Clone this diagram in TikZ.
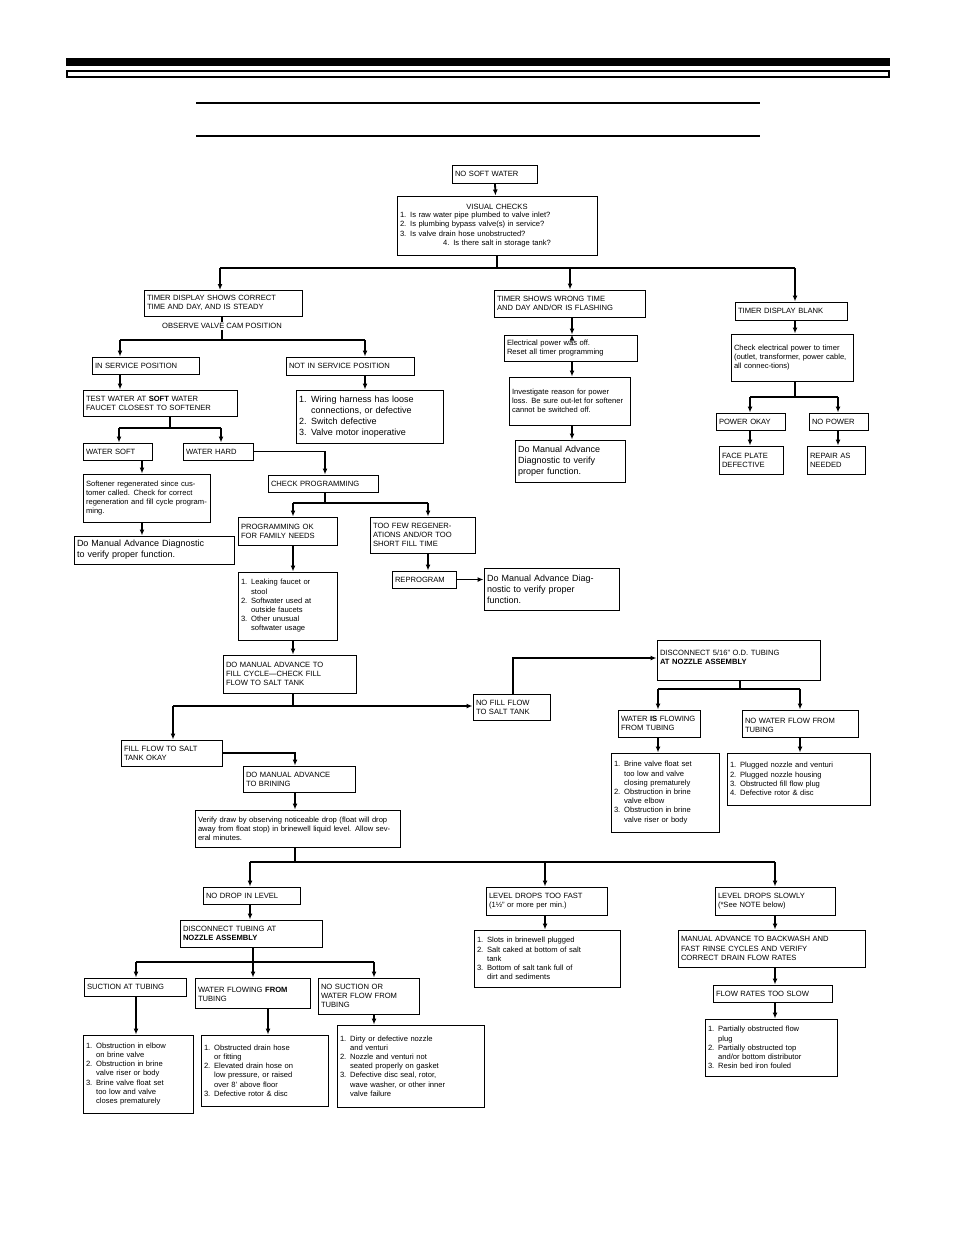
\documentclass[tikz,border=0pt]{standalone}
\usepackage{fontspec}
\setmainfont{Liberation Sans}
\usetikzlibrary{arrows.meta}
\begin{document}
\begin{tikzpicture}[x=1pt,y=-1pt,
  box/.style={draw,line width=1pt,inner xsep=3pt,inner ysep=1pt,align=left,font=\fontsize{7.6}{9.2}\selectfont},
  big/.style={font=\fontsize{9}{11}\selectfont},
  ln/.style={line width=1.8pt},
  ar/.style={line width=1.8pt,-{Latex[length=6pt,width=5pt]}}]
\useasboundingbox (0,0) rectangle (954,1235);
\fill (66,58) rectangle (890,66);
\draw[line width=1.2pt] (67,71) rectangle (889,77);
\draw[line width=1.5pt] (196,103) -- (760,103);
\draw[line width=1.5pt] (196,136) -- (760,136);
\newcommand{\bx}[7][]{\node[box,#1,minimum width=#4-#2,minimum height=#5-#3,text width=#4-#2-6] (#6) at ({(#2+#4)/2},{(#3+#5)/2}) {#7};}
\bx{452}{165}{537}{183}{nsw}{NO SOFT WATER}
\bx[align=center]{397}{196}{597}{255}{vis}{VISUAL CHECKS\\[-1pt]\raggedright 1. Is raw water pipe plumbed to valve inlet?\\2. Is plumbing bypass valve(s) in service?\\3. Is valve drain hose unobstructed?\\4. Is there salt in storage tank?}
\bx{144}{290}{302}{316}{tdc}{TIMER DISPLAY SHOWS CORRECT\\TIME AND DAY, AND IS STEADY}
\bx{494}{290}{645}{317}{tsw}{TIMER SHOWS WRONG TIME\\AND DAY AND/OR IS FLASHING}
\bx{735}{302}{847}{320}{tdb}{TIMER DISPLAY BLANK}
\node[font=\fontsize{7.6}{9}\selectfont,fill=white,inner sep=1pt] (obs) at (222,326) {OBSERVE VALVE CAM POSITION};
\bx{92}{357}{199}{374}{isp}{IN SERVICE POSITION}
\bx{286}{357}{414}{375}{nisp}{NOT IN SERVICE POSITION}
\bx{83}{390}{237}{416}{test}{TEST WATER AT \textbf{SOFT} WATER\\FAUCET CLOSEST TO SOFTENER}
\bx[big]{296}{390}{443}{443}{wir}{1. Wiring harness has loose\\\phantom{1. }connections, or defective\\2. Switch defective\\3. Valve motor inoperative}
\bx{83}{443}{152}{460}{wsoft}{WATER SOFT}
\bx{183}{443}{253}{460}{whard}{WATER HARD}
\bx{83}{474}{210}{522}{sreg}{Softener regenerated since customer called. Check for correct regeneration and fill cycle programming.}
\bx{268}{475}{378}{492}{chk}{CHECK PROGRAMMING}
\bx[big]{74}{536}{234}{564}{dm1}{Do Manual Advance Diagnostic\\to verify proper function.}
\bx{238}{517}{337}{545}{pok}{PROGRAMMING OK\\FOR FAMILY NEEDS}
\bx{370}{517}{475}{553}{few}{TOO FEW REGENER-\\ATIONS AND/OR TOO\\SHORT FILL TIME}
\bx{392}{571}{456}{588}{rep}{REPROGRAM}
\bx[big]{484}{568}{619}{610}{dm2}{Do Manual Advance Diag-\\nostic to verify proper\\function.}
\bx{238}{572}{337}{640}{leak}{1. Leaking faucet or\\\phantom{1. }stool\\2. Softwater used at\\\phantom{2. }outside faucets\\3. Other unusual\\\phantom{3. }softwater usage}
\bx{504}{335}{637}{361}{epo}{Electrical power was off.\\Reset all timer programming}
\bx{509}{377}{630}{425}{inv}{Investigate reason for power loss. Be sure out-let for softener cannot be switched off.}
\bx[big]{515}{440}{625}{482}{dm3}{Do Manual Advance\\Diagnostic to verify\\proper function.}
\bx{731}{334}{853}{381}{chkel}{Check electrical power to timer (outlet, transformer, power cable, all connec-tions)}
\bx{716}{413}{785}{430}{pwok}{POWER OKAY}
\bx{809}{413}{868}{430}{nop}{NO POWER}
\bx{719}{446}{783}{474}{face}{FACE PLATE\\DEFECTIVE}
\bx{807}{446}{865}{474}{repair}{REPAIR AS\\NEEDED}
\bx{223}{655}{356}{693}{dmf}{DO MANUAL ADVANCE TO\\FILL CYCLE---CHECK FILL\\FLOW TO SALT TANK}
\bx{473}{694}{550}{720}{nofill}{NO FILL FLOW\\TO SALT TANK}
\bx[text depth=14pt]{657}{640}{820}{680}{d516}{DISCONNECT 5/16'' O.D. TUBING\\\textbf{AT NOZZLE ASSEMBLY}}
\bx{618}{710}{700}{737}{wif}{WATER \textbf{IS} FLOWING\\FROM TUBING}
\bx[text depth=6pt]{742}{710}{858}{737}{nwf}{NO WATER FLOW FROM\\TUBING}
\bx{611}{753}{719}{832}{brine}{1. Brine valve float set\\\phantom{1. }too low and valve\\\phantom{1. }closing prematurely\\2. Obstruction in brine\\\phantom{2. }valve elbow\\3. Obstruction in brine\\\phantom{3. }valve riser or body}
\bx{727}{753}{870}{805}{plug}{1. Plugged nozzle and venturi\\2. Plugged nozzle housing\\3. Obstructed fill flow plug\\4. Defective rotor \& disc}
\bx{121}{740}{222}{766}{ffok}{FILL FLOW TO SALT\\TANK OKAY}
\bx{243}{766}{355}{792}{dmb}{DO MANUAL ADVANCE\\TO BRINING}
\bx{195}{810}{400}{847}{ver}{Verify draw by observing noticeable drop (float will drop away from float stop) in brinewell liquid level. Allow several minutes.}
\bx{203}{887}{300}{904}{ndl}{NO DROP IN LEVEL}
\bx{486}{887}{607}{915}{ldf}{LEVEL DROPS TOO FAST\\(1\textonehalf'' or more per min.)}
\bx{715}{887}{835}{915}{lds}{LEVEL DROPS SLOWLY\\(*See NOTE below)}
\bx{180}{920}{322}{947}{dct}{DISCONNECT TUBING AT\\\textbf{NOZZLE ASSEMBLY}}
\bx{474}{930}{620}{987}{slots}{1. Slots in brinewell plugged\\2. Salt caked at bottom of salt\\\phantom{2. }tank\\3. Bottom of salt tank full of\\\phantom{3. }dirt and sediments}
\bx{678}{930}{865}{967}{madv}{MANUAL ADVANCE TO BACKWASH AND\\FAST RINSE CYCLES AND VERIFY\\CORRECT DRAIN FLOW RATES}
\bx{713}{985}{832}{1002}{frs}{FLOW RATES TOO SLOW}
\bx{705}{1019}{837}{1076}{pobs}{1. Partially obstructed flow\\\phantom{1. }plug\\2. Partially obstructed top\\\phantom{2. }and/or bottom distributor\\3. Resin bed iron fouled}
\bx{84}{978}{186}{996}{sat}{SUCTION AT TUBING}
\bx[text depth=6pt]{195}{978}{310}{1008}{wff}{WATER FLOWING \textbf{FROM}\\TUBING}
\bx{318}{978}{419}{1014}{nso}{NO SUCTION OR\\WATER FLOW FROM\\TUBING}
\bx{83}{1035}{193}{1113}{o1}{1. Obstruction in elbow\\\phantom{1. }on brine valve\\2. Obstruction in brine\\\phantom{2. }valve riser or body\\3. Brine valve float set\\\phantom{3. }too low and valve\\\phantom{3. }closes prematurely}
\bx{201}{1035}{328}{1106}{o2}{1. Obstructed drain hose\\\phantom{1. }or fitting\\2. Elevated drain hose on\\\phantom{2. }low pressure, or raised\\\phantom{2. }over 8' above floor\\3. Defective rotor \& disc}
\bx{337}{1025}{484}{1107}{o3}{1. Dirty or defective nozzle\\\phantom{1. }and venturi\\2. Nozzle and venturi not\\\phantom{2. }seated properly on gasket\\3. Defective disc seal, rotor,\\\phantom{3. }wave washer, or other inner\\\phantom{3. }valve failure}
% connectors
\draw[ar] (nsw) -- (vis);
\coordinate (b1) at (497,268);
\draw[ln] (vis.south) -- (b1);
\draw[ln] (220,268) -- (795,268);
\draw[ar] (220,268) -- (220,290);
\draw[ar] (570,268) -- (tsw.north -| 570,0);
\draw[ar] (795,268) -- (tdb.north -| 795,0);
\draw[ln] (tdc.south -| 222,0) -- (obs.north -| 222,0);
\draw[ln] (obs.south -| 222,0) -- (222,340);
\draw[ln] (120,340) -- (365,340);
\draw[ar] (120,340) -- (isp.north -| 120,0);
\draw[ar] (365,340) -- (nisp.north -| 365,0);
\draw[ar] (isp.south -| 120,0) -- (test.north -| 120,0);
\draw[ar] (nisp.south -| 365,0) -- (wir.north -| 365,0);
\draw[ln] (test.south -| 170,0) -- (170,428);
\draw[ln] (119,428) -- (221,428);
\draw[ar] (119,428) -- (wsoft.north -| 119,0);
\draw[ar] (221,428) -- (whard.north -| 221,0);
\draw[ar] (whard.east) -| (chk.north -| 325,0);
\draw[ar] (wsoft.south -| 142,0) -- (sreg.north -| 142,0);
\draw[ar] (sreg.south -| 142,0) -- (dm1.north -| 142,0);
\draw[ln] (chk.south -| 325,0) -- (325,503);
\draw[ln] (293,503) -- (428,503);
\draw[ar] (293,503) -- (pok.north -| 293,0);
\draw[ar] (428,503) -- (few.north -| 428,0);
\draw[ar] (pok.south -| 293,0) -- (leak.north -| 293,0);
\draw[ar] (few.south -| 428,0) -- (rep.north -| 428,0);
\draw[ar] (rep.east) -- (dm2.west |- rep.east);
\draw[ar] (leak.south -| 293,0) -- (dmf.north -| 293,0);
\draw[ar] (epo.north -| 572,0) ++(0,0);
\draw[ar] (tsw.south -| 572,0) -- (epo.north -| 572,0);
\draw[ar] (epo.south -| 572,0) -- (inv.north -| 572,0);
\draw[ar] (inv.south -| 572,0) -- (dm3.north -| 572,0);
\draw[ar] (tdb.south -| 795,0) -- (chkel.north -| 795,0);
\draw[ln] (chkel.south -| 795,0) -- (795,397);
\draw[ln] (750,397) -- (838,397);
\draw[ar] (750,397) -- (pwok.north -| 750,0);
\draw[ar] (838,397) -- (nop.north -| 838,0);
\draw[ar] (pwok.south -| 750,0) -- (face.north -| 750,0);
\draw[ar] (nop.south -| 838,0) -- (repair.north -| 838,0);
\draw[ln] (dmf.south -| 293,0) -- (293,706);
\draw[ar] (173,706) -- (nofill.west |- 0,706);
\draw[ar] (173,706) -- (ffok.north -| 173,0);
\draw[ar] (nofill.north -| 513,0) -- (513,658) -- (d516.west |- 0,658);
\draw[ln] (d516.south -| 740,0) -- (740,689);
\draw[ln] (658,689) -- (800,689);
\draw[ar] (658,689) -- (wif.north -| 658,0);
\draw[ar] (800,689) -- (nwf.north -| 800,0);
\draw[ar] (wif.south -| 658,0) -- (brine.north -| 658,0);
\draw[ar] (nwf.south -| 800,0) -- (plug.north -| 800,0);
\draw[ar] (ffok.east) -| (dmb.north -| 295,0);
\draw[ar] (dmb.south -| 295,0) -- (ver.north -| 295,0);
\draw[ln] (ver.south -| 295,0) -- (295,862);
\draw[ln] (250,862) -- (775,862);
\draw[ar] (250,862) -- (ndl.north -| 250,0);
\draw[ar] (545,862) -- (ldf.north -| 545,0);
\draw[ar] (775,862) -- (lds.north -| 775,0);
\draw[ar] (ndl.south -| 250,0) -- (dct.north -| 250,0);
\draw[ln] (dct.south -| 253,0) -- (253,962);
\draw[ln] (136,962) -- (374,962);
\draw[ar] (136,962) -- (sat.north -| 136,0);
\draw[ar] (253,962) -- (wff.north -| 253,0);
\draw[ar] (374,962) -- (nso.north -| 374,0);
\draw[ar] (sat.south -| 136,0) -- (o1.north -| 136,0);
\draw[ar] (wff.south -| 268,0) -- (o2.north -| 268,0);
\draw[ar] (nso.south -| 374,0) -- (o3.north -| 374,0);
\draw[ar] (ldf.south -| 545,0) -- (slots.north -| 545,0);
\draw[ar] (lds.south -| 775,0) -- (madv.north -| 775,0);
\draw[ar] (madv.south -| 775,0) -- (frs.north -| 775,0);
\draw[ar] (frs.south -| 775,0) -- (pobs.north -| 775,0);
\end{tikzpicture}
\end{document}
